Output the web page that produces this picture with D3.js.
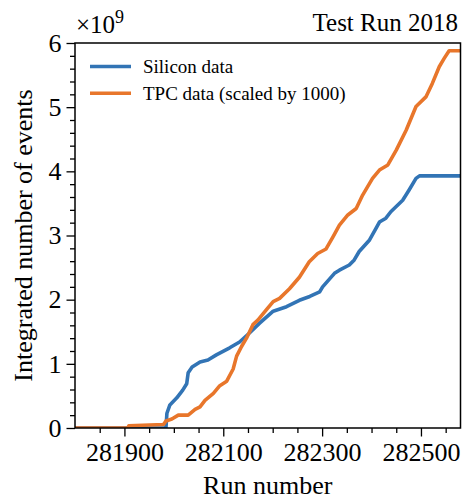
<!DOCTYPE html>
<html>
<head>
<meta charset="utf-8">
<script src="https://cdn.jsdelivr.net/npm/d3@7"></script>
<style>
  html, body { margin: 0; padding: 0; background: #fff; }
  svg text { font-family: "Liberation Serif", "Times New Roman", serif; fill: #000; }
</style>
</head>
<body>
<svg id="chart" width="462" height="499"></svg>
<script>
// Cumulative event counts (units of 1e9) versus run number
const siliconRuns = [281800, 281984, 281986, 281992, 282006, 282018, 282026, 282029, 282037, 282053,
  282069, 282086, 282113, 282133, 282153, 282173, 282201, 282228, 282254, 282275, 282295, 282301,
  282325, 282335, 282355, 282365, 282375, 282396, 282409, 282416, 282429, 282439, 282463, 282476,
  282490, 282497, 282580];
const siliconValues = [0, 0, 0.23, 0.36, 0.47, 0.59, 0.69, 0.86, 0.95, 1.03,
  1.06, 1.14, 1.25, 1.34, 1.48, 1.63, 1.82, 1.89, 1.99, 2.05, 2.12, 2.20,
  2.41, 2.46, 2.54, 2.62, 2.75, 2.93, 3.11, 3.21, 3.27, 3.37, 3.55, 3.71,
  3.89, 3.93, 3.93];

const tpcRuns = [281800, 281907, 281909, 281979, 281984, 281996, 282009, 282029, 282043, 282053,
  282063, 282080, 282093, 282107, 282120, 282127, 282137, 282147, 282160, 282170, 282187, 282201,
  282214, 282234, 282254, 282274, 282291, 282308, 282322, 282335, 282352, 282369, 282382, 282402,
  282416, 282433, 282450, 282470, 282490, 282510, 282523, 282537, 282547, 282557, 282580];
const tpcValues = [0, 0, 0.035, 0.055, 0.11, 0.14, 0.20, 0.20, 0.29, 0.33,
  0.43, 0.54, 0.66, 0.73, 0.92, 1.12, 1.27, 1.40, 1.61, 1.68, 1.84, 1.97,
  2.02, 2.17, 2.35, 2.59, 2.72, 2.79, 2.98, 3.16, 3.32, 3.42, 3.63, 3.89,
  4.02, 4.10, 4.33, 4.64, 5.01, 5.16, 5.37, 5.63, 5.76, 5.88, 5.88];

const seriesNames = ["Silicon data", "TPC data (scaled by 1000)"];
const seriesColors = ["#3274b5", "#e8762b"];

const xTickValues = [281900, 282100, 282300, 282500];
const yTickValues = [0, 1, 2, 3, 4, 5, 6];

const svg = d3.select("#chart");
const margin = { left: 75, right: 1, top: 43, bottom: 71 };
const W = 462, H = 499;

const x = d3.scaleLinear().domain([281800, 282580]).range([margin.left, W - margin.right - 0.5]);
const y = d3.scaleLinear().domain([0, 6]).range([H - margin.bottom, margin.top]);

// Curves
const line = d3.line().x(d => x(d[0])).y(d => y(d[1]));
const silicon = siliconRuns.map((r, i) => [r, siliconValues[i]]);
const tpc = tpcRuns.map((r, i) => [r, tpcValues[i]]);

const plot = svg.append("g");
plot.append("clipPath").attr("id", "clip").append("rect")
  .attr("x", x.range()[0]).attr("y", y.range()[1])
  .attr("width", x.range()[1] - x.range()[0]).attr("height", y.range()[0] - y.range()[1]);

[silicon, tpc].forEach((data, i) => {
  plot.append("path")
    .datum(data)
    .attr("clip-path", "url(#clip)")
    .attr("fill", "none")
    .attr("stroke", seriesColors[i])
    .attr("stroke-width", 3.6)
    .attr("stroke-linejoin", "round")
    .attr("d", line);
});

// Axes
const tickFont = 26;
function styleAxis(g) {
  g.select(".domain").remove();
  g.selectAll(".tick line").attr("stroke", "#000").attr("stroke-width", 1.3);
  g.selectAll(".tick text").style("font-size", tickFont + "px");
}

const xMinor = d3.range(281850, 282580, 50).filter(v => !xTickValues.includes(v));
svg.append("g").attr("transform", `translate(0,${y(0)})`)
  .call(d3.axisBottom(x).tickValues(xMinor).tickSize(5).tickFormat(""))
  .call(styleAxis);
svg.append("g").attr("transform", `translate(0,${y(0)})`)
  .call(d3.axisBottom(x).tickValues(xTickValues).tickSize(8.5).tickPadding(6).tickFormat(d3.format("d")))
  .call(styleAxis)
  .call(g => g.selectAll(".tick text").attr("dy", "0.71em"));

const yMinor = d3.range(0, 6.01, 0.2).filter(v => Math.abs(v - Math.round(v)) > 1e-6);
svg.append("g").attr("transform", `translate(${x.range()[0]},0)`)
  .call(d3.axisLeft(y).tickValues(yMinor).tickSize(5).tickFormat(""))
  .call(styleAxis);
svg.append("g").attr("transform", `translate(${x.range()[0]},0)`)
  .call(d3.axisLeft(y).tickValues(yTickValues).tickSize(8.5).tickPadding(5).tickFormat(d3.format("d")))
  .call(styleAxis);

// Frame
svg.append("rect")
  .attr("x", x.range()[0]).attr("y", y.range()[1])
  .attr("width", x.range()[1] - x.range()[0]).attr("height", y.range()[0] - y.range()[1])
  .attr("fill", "none").attr("stroke", "#000").attr("stroke-width", 1.5);

// Offset label for the y axis
const off = svg.append("text").attr("x", x.range()[0] + 1).attr("y", 33).style("font-size", "25px");
off.append("tspan").text("×10");
off.append("tspan").attr("dy", -10).style("font-size", "18px").text("9");

// Title
svg.append("text").attr("x", W - 4).attr("y", 31).attr("text-anchor", "end")
  .style("font-size", "25px").text("Test Run 2018");

// Axis labels
svg.append("text").attr("x", (x.range()[0] + x.range()[1]) / 2).attr("y", 494)
  .attr("text-anchor", "middle").style("font-size", "26px").text("Run number");
svg.append("text")
  .attr("transform", `translate(32,${(y.range()[0] + y.range()[1]) / 2}) rotate(-90)`)
  .attr("text-anchor", "middle").style("font-size", "26px").text("Integrated number of events");

// Legend
const legend = svg.append("g");
seriesNames.forEach((name, i) => {
  const ly = 66.5 + i * 26.7;
  legend.append("line").attr("x1", 90).attr("x2", 131).attr("y1", ly).attr("y2", ly)
    .attr("stroke", seriesColors[i]).attr("stroke-width", 3.6);
  legend.append("text").attr("x", 143).attr("y", ly + 6.5).style("font-size", "19px").text(name);
});
</script>
</body>
</html>
